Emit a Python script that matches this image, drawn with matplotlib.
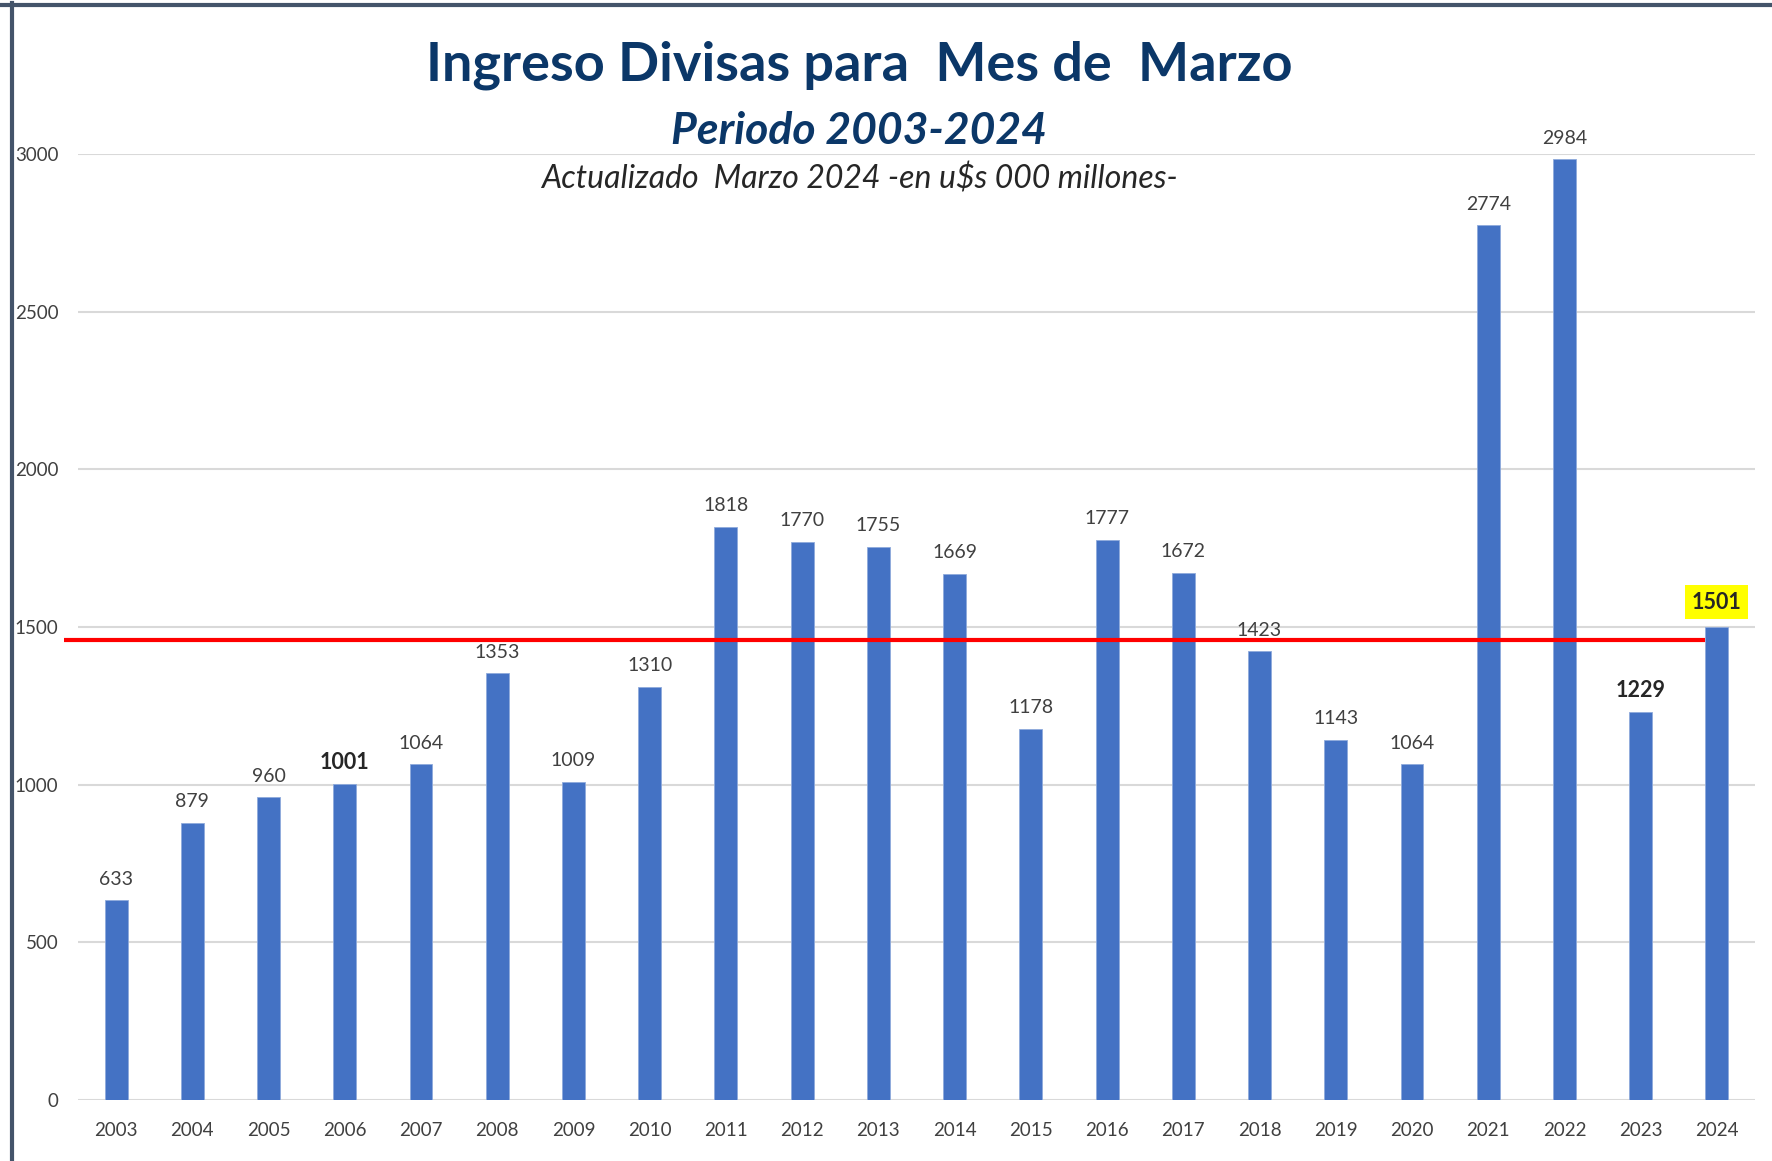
import matplotlib
matplotlib.use("Agg")
import matplotlib.pyplot as plt
from matplotlib.lines import Line2D

plt.rcParams['font.family'] = ['Lato', 'DejaVu Sans']

years = [str(y) for y in range(2003, 2025)]
values = [633, 879, 960, 1001, 1064, 1353, 1009, 1310, 1818, 1770, 1755, 1669,
          1178, 1777, 1672, 1423, 1143, 1064, 2774, 2984, 1229, 1501]
bold_years = ['2006', '2023']
highlight_year = '2024'
ref_level = 1460
yticks = [0, 500, 1000, 1500, 2000, 2500, 3000]

title = "Ingreso Divisas para  Mes de  Marzo"
subtitle = "Periodo 2003-2024"
note = "Actualizado  Marzo 2024 -en u$s 000 millones-"

W, H = 1772, 1161
fig = plt.figure(figsize=(W / 100, H / 100), dpi=100)
ax = fig.add_axes([78 / W, 1 - 1100 / H, (1755 - 78) / W, (1100 - 154) / H])

x = list(range(len(years)))
ax.bar(x, values, width=0.30, color='#4472C4', edgecolor='#8FAADC', linewidth=0.6, zorder=2)

ax.set_xlim(-0.5, len(years) - 0.5)
ax.set_ylim(0, 3000)
ax.set_yticks(yticks)
ax.set_yticklabels([str(t) for t in yticks])
ax.set_xticks(x)
ax.set_xticklabels(years)
ax.tick_params(axis='both', length=0, labelsize=13.5, labelcolor='#404040')
ax.tick_params(axis='y', pad=14)
ax.tick_params(axis='x', pad=16)
ax.grid(axis='y', color='#D9D9D9', linewidth=1.5, zorder=0)
ax.set_axisbelow(True)
for s in ax.spines.values():
    s.set_visible(False)

# reference line
ax.plot([-0.68, len(years) - 1 - 0.15], [ref_level, ref_level], color='#FF0000',
        linewidth=3, zorder=3, clip_on=False, solid_capstyle='butt')

for xi, yr, v in zip(x, years, values):
    if yr == highlight_year:
        ax.annotate(str(v), (xi, v), xytext=(0, 10), textcoords='offset points',
                    ha='center', va='bottom', fontsize=15.5, fontweight='bold', color='#262626',
                    bbox=dict(boxstyle='square,pad=0.3', fc='#FFFF00', ec='none'),
                    annotation_clip=False, zorder=5)
    elif yr in bold_years:
        ax.annotate(str(v), (xi, v), xytext=(0, 8), textcoords='offset points',
                    ha='center', va='bottom', fontsize=15.5, fontweight='bold', color='#262626',
                    annotation_clip=False)
    else:
        ax.annotate(str(v), (xi, v), xytext=(0, 9), textcoords='offset points',
                    ha='center', va='bottom', fontsize=14, color='#404040',
                    annotation_clip=False)

cx = 859 / W
fig.text(cx, 1 - 65 / H, title, ha='center', va='center', fontsize=39,
         fontweight='bold', color='#0B3768')
fig.text(cx, 1 - 131 / H, subtitle, ha='center', va='center', fontsize=32,
         fontweight='bold', style='italic', color='#0B3768')
fig.text(cx, 1 - 179 / H, note, ha='center', va='center', fontsize=23,
         style='italic', color='#262626')

# frame
fig.add_artist(Line2D([0, 1], [1 - 5 / H, 1 - 5 / H], color='#44546A', linewidth=3,
                      transform=fig.transFigure))
fig.add_artist(Line2D([12 / W, 12 / W], [0, 1 - 3 / H], color='#44546A', linewidth=3,
                      transform=fig.transFigure))

fig.savefig('out.png', dpi=100)
